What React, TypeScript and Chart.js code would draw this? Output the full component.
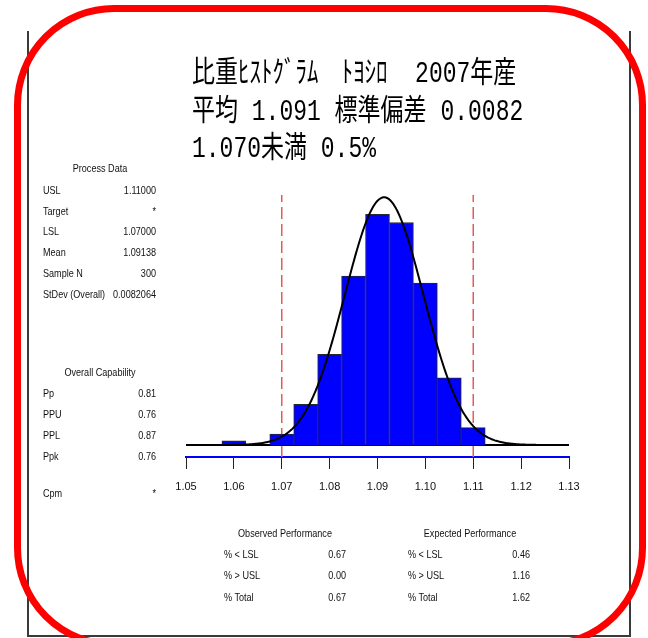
import React, { useEffect, useRef } from "react";
import { Chart, registerables } from "chart.js";

Chart.register(...registerables);

// ---------- data ----------
const BIN_CENTERS = [1.06, 1.065, 1.07, 1.075, 1.08, 1.085, 1.09, 1.095, 1.1, 1.105, 1.11];
const BIN_COUNTS = [1.2, 0, 3.2, 12, 26.7, 49.7, 67.9, 65.5, 47.7, 19.8, 5.1];
const BIN_WIDTH = 0.005;
const LSL = 1.07;
const USL = 1.11;
const MEAN = 1.09138;
const STDEV = 0.0082064;
const SAMPLE_N = 300;
const X_MIN = 1.05;
const X_MAX = 1.13;
const X_TICKS = [1.05, 1.06, 1.07, 1.08, 1.09, 1.1, 1.11, 1.12, 1.13];
const Y_MIN = -3.53;
const Y_MAX = 73.6;

const TITLE_LINES = [
  "比重ﾋｽﾄｸﾞﾗﾑ　ﾄﾖｼﾛ  2007年産",
  "平均 1.091 標準偏差 0.0082",
  "1.070未満 0.5%",
];
const PROCESS_DATA_TITLE = "Process Data";
const PROCESS_LABELS = ["USL", "Target", "LSL", "Mean", "Sample N", "StDev (Overall)"];
const PROCESS_VALUES = ["1.11000", "*", "1.07000", "1.09138", "300", "0.0082064"];
const CAPABILITY_TITLE = "Overall Capability";
const CAPABILITY_LABELS = ["Pp", "PPU", "PPL", "Ppk"];
const CAPABILITY_VALUES = ["0.81", "0.76", "0.87", "0.76"];
const CPM_LABEL = "Cpm";
const CPM_VALUE = "*";
const OBSERVED_TITLE = "Observed Performance";
const EXPECTED_TITLE = "Expected Performance";
const PERF_LABELS = ["% < LSL", "% > USL", "% Total"];
const OBSERVED_VALUES = ["0.67", "0.00", "0.67"];
const EXPECTED_VALUES = ["0.46", "1.16", "1.62"];

// fitted normal curve from the stated mean / stdev (as the original software does)
const CURVE_X: number[] = [];
for (let i = 0; i <= 320; i++) CURVE_X.push(X_MIN + ((X_MAX - X_MIN) * i) / 320);
const normalCount = (x: number) =>
  (SAMPLE_N * BIN_WIDTH * Math.exp(-0.5 * ((x - MEAN) / STDEV) ** 2)) / (STDEV * Math.sqrt(2 * Math.PI));

const SMALL_FONT = '"Liberation Sans", Arial, sans-serif';
const TITLE_FONT = '"Liberation Mono", "Noto Sans CJK JP", monospace';

type Align = "left" | "right" | "center";
function T({ x, y, text, align = "left", size = 11.5 }: { x: number; y: number; text: string; align?: Align; size?: number }) {
  const W = 300;
  const left = align === "left" ? x : align === "right" ? x - W : x - W / 2;
  const origin = align === "left" ? "left center" : align === "right" ? "right center" : "center center";
  return (
    <div
      style={{
        position: "absolute",
        left,
        top: y - size * 0.6,
        width: W,
        height: size * 1.2,
        lineHeight: `${size * 1.2}px`,
        fontSize: size,
        fontFamily: SMALL_FONT,
        textAlign: align,
        transform: "scaleX(0.79)",
        transformOrigin: origin,
        whiteSpace: "pre",
        color: "#111",
      }}
    >
      {text}
    </div>
  );
}

const TITLE_Y = [74, 112, 149];
const PROCESS_Y = [190.5, 211.5, 232, 253, 274, 295];
const CAP_Y = [394, 415, 436, 457];
const PERF_Y = [555, 576, 598];

export default function App() {
  const ref = useRef<HTMLCanvasElement | null>(null);

  useEffect(() => {
    const canvas = ref.current;
    if (!canvas) return;
    const chart = new Chart(canvas, {
      type: "bar",
      data: {
        datasets: [
          {
            type: "line",
            data: CURVE_X.map((x) => ({ x, y: normalCount(x) })),
            borderColor: "#000",
            borderWidth: 2,
            pointRadius: 0,
            tension: 0,
          } as any,
          {
            type: "bar",
            data: BIN_CENTERS.map((x, i) => ({ x, y: BIN_COUNTS[i] })),
            backgroundColor: "#0000ff",
            borderColor: "#2a2a2a",
            borderWidth: 1,
            barPercentage: 1,
            categoryPercentage: 1,
          } as any,
          {
            type: "line",
            data: [
              { x: X_MIN, y: 0 },
              { x: X_MAX, y: 0 },
            ],
            borderColor: "#000",
            borderWidth: 2,
            pointRadius: 0,
          } as any,
          {
            type: "line",
            data: [
              { x: LSL, y: Y_MIN },
              { x: LSL, y: Y_MAX },
            ],
            borderColor: "#e85a5a",
            borderWidth: 1.5,
            borderDash: [12, 5],
            pointRadius: 0,
          } as any,
          {
            type: "line",
            data: [
              { x: USL, y: Y_MIN },
              { x: USL, y: Y_MAX },
            ],
            borderColor: "#e85a5a",
            borderWidth: 1.5,
            borderDash: [12, 5],
            pointRadius: 0,
          } as any,
        ],
      },
      options: {
        animation: false,
        responsive: false,
        maintainAspectRatio: false,
        events: [],
        plugins: { legend: { display: false }, tooltip: { enabled: false }, title: { display: false } },
        layout: { padding: { left: 186, right: 79, top: 195, bottom: 141 } },
        scales: {
          x: {
            type: "linear",
            min: X_MIN,
            max: X_MAX,
            offset: false,
            afterBuildTicks: (axis: any) => {
              axis.ticks = X_TICKS.map((v) => ({ value: v }));
            },
            afterFit: (axis: any) => {
              axis.height = 40;
            },
            grid: {
              offset: false,
              drawOnChartArea: false,
              drawTicks: true,
              tickLength: 12,
              tickColor: "#222",
              tickWidth: 1,
            },
            border: { display: true, color: "#0000ff", width: 2 },
            ticks: {
              color: "#111",
              padding: 11,
              autoSkip: false,
              maxRotation: 0,
              font: { family: '"Liberation Sans", Arial, sans-serif', size: 11 },
              callback: (v: any) => Number(v).toFixed(2),
            },
          },
          y: { display: false, min: Y_MIN, max: Y_MAX },
        },
      } as any,
    });
    return () => chart.destroy();
  }, []);

  return (
    <div style={{ position: "fixed", left: 0, top: 0, width: 648, height: 638, overflow: "hidden", background: "#fff" }}>
      <canvas ref={ref} width={648} height={638} style={{ position: "absolute", left: 0, top: 0, width: 648, height: 638 }} />
      {/* page frame */}
      <div
        style={{
          position: "absolute",
          left: 27,
          top: 31,
          width: 604,
          height: 606,
          boxSizing: "border-box",
          borderLeft: "2px solid #3a3a3a",
          borderRight: "2px solid #3a3a3a",
          borderBottom: "2px solid #3a3a3a",
        }}
      />
      {/* title */}
      {TITLE_LINES.map((line, i) => (
        <div
          key={i}
          style={{
            position: "absolute",
            left: 192,
            top: TITLE_Y[i] - 11.5,
            height: 23,
            lineHeight: "23px",
            fontSize: 23,
            fontFamily: TITLE_FONT,
            whiteSpace: "pre",
            color: "#000",
            transform: "scaleY(1.3)",
            transformOrigin: "left center",
          }}
        >
          {line}
        </div>
      ))}
      {/* process data */}
      <T x={100} y={168.5} text={PROCESS_DATA_TITLE} align="center" />
      {PROCESS_LABELS.map((l, i) => (
        <T key={"pl" + i} x={43} y={PROCESS_Y[i]} text={l} />
      ))}
      {PROCESS_VALUES.map((v, i) => (
        <T key={"pv" + i} x={156} y={PROCESS_Y[i]} text={v} align="right" />
      ))}
      {/* capability */}
      <T x={100} y={372.5} text={CAPABILITY_TITLE} align="center" />
      {CAPABILITY_LABELS.map((l, i) => (
        <T key={"cl" + i} x={43} y={CAP_Y[i]} text={l} />
      ))}
      {CAPABILITY_VALUES.map((v, i) => (
        <T key={"cv" + i} x={156} y={CAP_Y[i]} text={v} align="right" />
      ))}
      <T x={43} y={494} text={CPM_LABEL} />
      <T x={156} y={494} text={CPM_VALUE} align="right" />
      {/* performance tables */}
      <T x={285} y={534} text={OBSERVED_TITLE} align="center" />
      <T x={469.5} y={534} text={EXPECTED_TITLE} align="center" />
      {PERF_LABELS.map((l, i) => (
        <React.Fragment key={"pf" + i}>
          <T x={224} y={PERF_Y[i]} text={l} />
          <T x={346} y={PERF_Y[i]} text={OBSERVED_VALUES[i]} align="right" />
          <T x={408} y={PERF_Y[i]} text={l} />
          <T x={530} y={PERF_Y[i]} text={EXPECTED_VALUES[i]} align="right" />
        </React.Fragment>
      ))}
      {/* red highlight */}
      <div
        style={{
          position: "absolute",
          left: 14,
          top: 5,
          width: 632,
          height: 643,
          boxSizing: "border-box",
          border: "7px solid #ff0000",
          borderRadius: 100,
        }}
      />
    </div>
  );
}
